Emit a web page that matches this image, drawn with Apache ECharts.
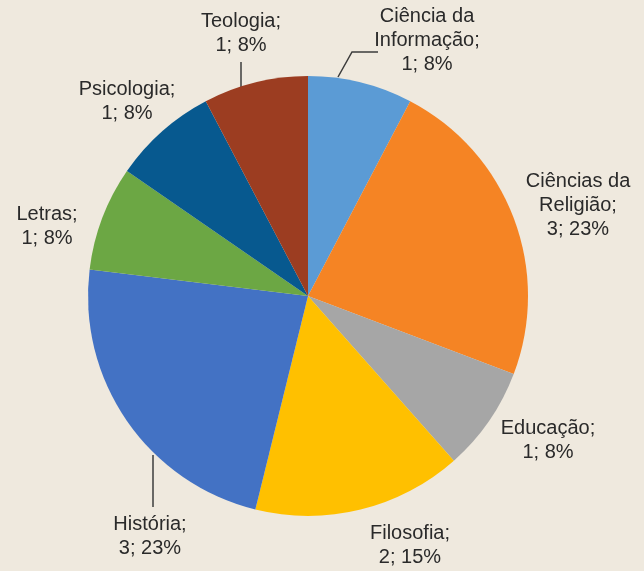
<!DOCTYPE html>
<html>
<head>
<meta charset="utf-8">
<script src="https://cdn.jsdelivr.net/npm/echarts@6/dist/echarts.min.js"></script>
<style>
  html, body { margin: 0; padding: 0; background: #efe9de; }
  #chart { width: 644px; height: 571px; }
</style>
</head>
<body>
<div id="chart"></div>
<script>
const categories = ['Ciência da\nInformação;', 'Ciências da\nReligião;', 'Educação;', 'Filosofia;', 'História;', 'Letras;', 'Psicologia;', 'Teologia;'];
const counts = [1, 3, 1, 2, 3, 1, 1, 1];
const colors = ['#5b9bd5', '#f58424', '#a6a6a6', '#ffc000', '#4372c4', '#6ca744', '#07598f', '#9c3d21'];

// where each label sits, and its leader line (if any)
const labelPos = [[427, 40], [578, 205], [548, 440], [410, 545], [150, 536], [47, 226], [127, 101], [241, 33]];
const leaderLines = {
  0: [[338, 77], [352, 52], [378, 52]],
  4: [[153, 455], [153, 480], [153, 507]],
  7: [[241, 88], [241, 75], [241, 62]]
};

const chart = echarts.init(document.getElementById('chart'));
chart.setOption({
  backgroundColor: '#efe9de',
  animation: false,
  series: [{
    type: 'pie',
    center: [308, 296],
    radius: 220,
    startAngle: 90,
    clockwise: true,
    avoidLabelOverlap: false,
    itemStyle: { borderWidth: 0 },
    label: {
      show: true,
      position: 'outside',
      fontFamily: 'Liberation Sans',
      fontSize: 20,
      lineHeight: 24,
      color: '#2a2a2a',
      align: 'center',
      formatter: (p) => p.name + '\n' + p.value + '; ' + Math.round(p.percent) + '%'
    },
    labelLine: { show: true, lineStyle: { color: '#3c3c3c', width: 1.5 } },
    labelLayout: (params) => {
      const p = labelPos[params.dataIndex];
      const res = { x: p[0], y: p[1], align: 'center', verticalAlign: 'middle' };
      if (leaderLines[params.dataIndex]) res.labelLinePoints = leaderLines[params.dataIndex];
      return res;
    },
    data: categories.map((c, i) => ({
      name: c,
      value: counts[i],
      itemStyle: { color: colors[i] },
      labelLine: { show: !!leaderLines[i] }
    }))
  }]
});
</script>
</body>
</html>
